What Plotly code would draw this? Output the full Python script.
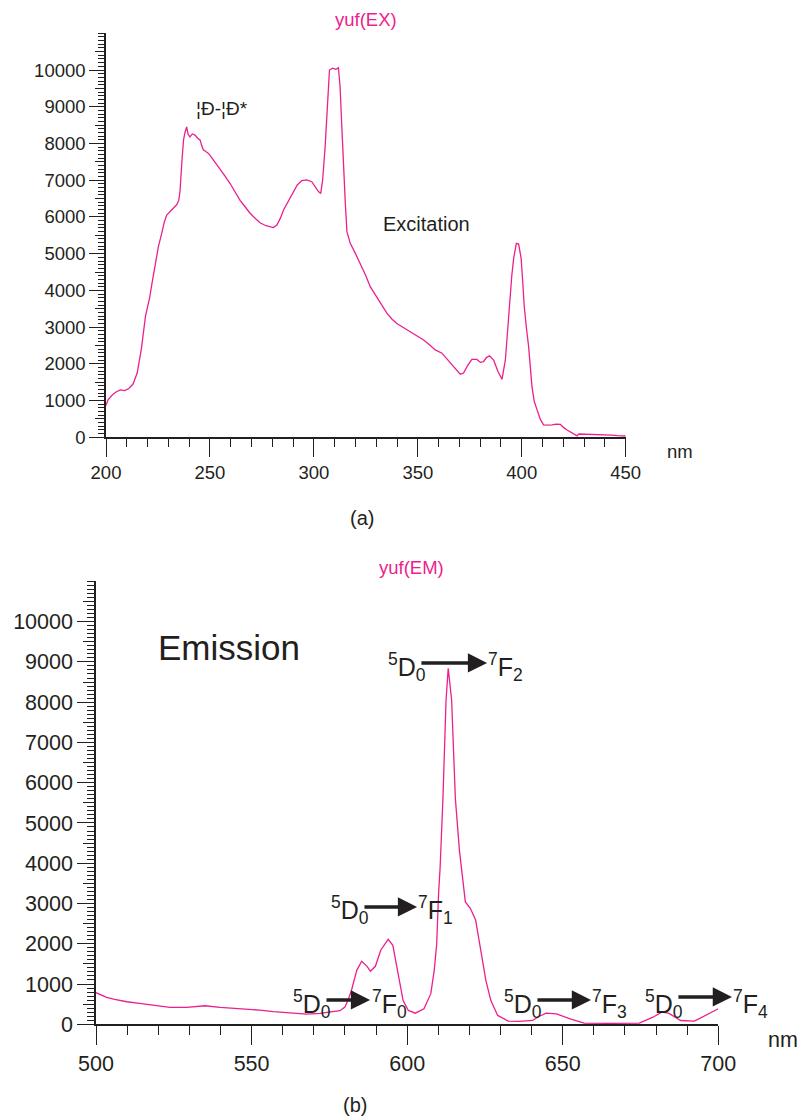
import plotly.graph_objects as go

# ---------------- data ----------------
ex_nm = [200, 201, 203, 205, 207, 209, 211, 213, 215, 217, 219, 221, 222, 223, 224,
         225.2, 226.8, 228, 229.2, 231, 233, 234, 235, 235.6, 236.5, 237.3, 238, 238.8,
         239.5, 240.4, 241.5, 242.8, 244, 245.3, 246, 246.8, 248, 249.3, 250.5, 251.7,
         253, 254.9, 257, 259.7, 262, 264.5, 267, 269.3, 272, 274.1, 277, 280.5, 282.2,
         284, 285.4, 288, 290.2, 292, 294.2, 296.5, 299, 301, 302.2, 303.3, 304.2, 305.4,
         306.5, 307.5, 309, 310.5, 311.8, 312.6, 313.4, 314.2, 315.1, 315.9, 317.5, 320,
         322.3, 325, 327.1, 330, 331.9, 335.1, 337.5, 339.9, 343, 346.4, 350, 352.8, 356,
         358.4, 361.6, 363.5, 365.6, 368, 370.4, 372, 374, 376, 378.4, 380.1, 381.6, 383,
         384.5, 386.5, 388.5, 390.5, 392.1, 393.2, 394.2, 395.2, 396.1, 397.4, 398.5,
         399.7, 400.5, 401.2, 402.3, 403.3, 404.9, 406, 407.4, 409, 410.5, 412, 414.6,
         416.5, 418.6, 420, 421.8, 424.2, 426.6, 427.4, 432, 437.8, 441, 443.4, 446, 450]
ex_int = [870, 1020, 1150, 1240, 1290, 1270, 1330, 1450, 1750, 2400, 3300, 3800, 4150,
          4500, 4800, 5190, 5550, 5850, 6050, 6150, 6260, 6330, 6450, 6700, 7500, 8100,
          8300, 8450, 8250, 8180, 8260, 8230, 8150, 8090, 7950, 7830, 7780, 7730, 7640,
          7550, 7450, 7320, 7130, 6910, 6680, 6450, 6270, 6100, 5950, 5840, 5760, 5710,
          5780, 5980, 6190, 6450, 6690, 6870, 6990, 7010, 6960, 6800, 6690, 6640, 7000,
          7900, 9100, 10000, 10050, 10020, 10060, 9550, 8500, 7370, 6400, 5600, 5280,
          5000, 4740, 4400, 4100, 3850, 3650, 3380, 3220, 3100, 2990, 2880, 2760, 2650,
          2500, 2380, 2290, 2170, 2020, 1860, 1720, 1750, 1960, 2120, 2120, 2040, 2060,
          2170, 2220, 2100, 1800, 1580, 2100, 2900, 3740, 4400, 4870, 5280, 5260, 4870,
          4200, 3560, 2950, 2470, 1380, 980, 740, 480, 340, 330, 340, 360, 350, 270, 200,
          110, 40, 90, 85, 80, 80, 60, 45, 35]

em_nm = [500, 501.5, 503.4, 506, 509.9, 514, 518.4, 523.8, 529.1, 532, 535, 539.9, 544,
         548.4, 552.7, 557, 560, 563.4, 567.7, 572, 575, 578.4, 580, 581, 582.1, 583.8,
         585.4, 587.1, 588.2, 589.8, 591.5, 593.9, 595.4, 597, 598.7, 600.4, 602.6,
         605.4, 607.6, 608.7, 609.5, 610.1, 610.6, 611.5, 612.5, 613.2, 614.3, 615.5,
         616.8, 618.7, 620.3, 622, 623.6, 625.3, 626.9, 629.1, 632.5, 636, 640.3, 642.5,
         644.7, 648, 652.4, 656.9, 665, 674.6, 679, 681.8, 684, 687.9, 692.3, 696.8, 700]
em_int = [785, 740, 670, 620, 560, 520, 480, 420, 420, 440, 460, 420, 400, 380, 350, 313,
          290, 273, 250, 270, 300, 338, 430, 600, 840, 1340, 1565, 1440, 1320, 1440, 1840,
          2110, 1960, 1260, 590, 343, 276, 385, 760, 1340, 2000, 3250, 3900, 5600, 8050,
          8840, 8050, 5600, 4320, 3040, 2880, 2590, 1840, 1090, 590, 220, 80, 70, 95, 200,
          276, 260, 134, 27, 25, 27, 176, 300, 276, 94, 77, 261, 385]

y_major = list(range(0, 10001, 1000))
y_half = list(range(500, 10501, 1000))

# transitions: labels, arrow start/end (nm), arrow level and text level (intensity units)
tr_left = ["<sup>5</sup>D<sub>0</sub>"] * 5
tr_right = ["<sup>7</sup>F<sub>0</sub>", "<sup>7</sup>F<sub>1</sub>", "<sup>7</sup>F<sub>2</sub>",
            "<sup>7</sup>F<sub>3</sub>", "<sup>7</sup>F<sub>4</sub>"]
tr_x0 = [573.6, 585.8, 604.1, 641.4, 686.7]
tr_x1 = [588.1, 603.2, 625.7, 659.1, 704.4]
tr_y = [604, 2914, 8974, 604, 678]
tr_ty = [504, 2839, 8862, 504, 504]

PINK = "#ec1f8c"
INK = "#231f20"
FONT = "Liberation Sans, Arial, Helvetica, sans-serif"

fig = go.Figure()
fig.add_trace(go.Scatter(x=ex_nm, y=ex_int, mode="lines", line=dict(color=PINK, width=1.3),
                         xaxis="x", yaxis="y", showlegend=False, hoverinfo="skip"))
fig.add_trace(go.Scatter(x=em_nm, y=em_int, mode="lines", line=dict(color=PINK, width=1.3),
                         xaxis="x2", yaxis="y2", showlegend=False, hoverinfo="skip"))
fig.add_trace(go.Scatter(x=[], y=[], xaxis="x", yaxis="y3", showlegend=False))
fig.add_trace(go.Scatter(x=[], y=[], xaxis="x2", yaxis="y4", showlegend=False))


def xaxis(domain, rng, fs, anchor, tick0, major_len):
    return dict(domain=domain, range=rng, anchor=anchor, tick0=tick0, dtick=50,
                automargin=False, ticks="outside", ticklen=major_len, tickwidth=1.3,
                tickcolor=INK, showline=True, linecolor=INK, linewidth=1.5, showgrid=False,
                zeroline=False, tickfont=dict(size=fs, color=INK, family=FONT),
                minor=dict(dtick=10, tick0=tick0, ticks="outside", ticklen=major_len * 0.45,
                           tickcolor=INK, tickwidth=1.2, showgrid=False))


def yaxis(domain, fs, anchor, major_len, minor_len):
    return dict(domain=domain, range=[0, 11000], anchor=anchor, tickmode="array",
                tickvals=y_major, tickformat="d", automargin=False, ticks="outside",
                ticklen=major_len, tickwidth=1.3, tickcolor=INK, showline=True,
                linecolor=INK, linewidth=1.5, showgrid=False, zeroline=False,
                tickfont=dict(size=fs, color=INK, family=FONT),
                minor=dict(dtick=100, tick0=0, ticks="outside", ticklen=minor_len,
                           tickcolor=INK, tickwidth=1.0, showgrid=False))


def yhalf(over, anchor, domain, ln):
    return dict(overlaying=over, anchor=anchor, side="left", domain=domain, range=[0, 11000],
                tickmode="array", tickvals=y_half, ticks="outside", ticklen=ln,
                automargin=False, tickwidth=1.2, tickcolor=INK, showticklabels=False,
                showline=False, showgrid=False, zeroline=False)


top_y = [0.6085, 0.9702]
bot_y = [0.0830, 0.4795]
top_x = [106 / 800, 625.7 / 800]
bot_x = [96 / 800, 718.3 / 800]


def bx(nm):
    # position along the bottom x axis, as a paper fraction
    return bot_x[0] + (nm - 500) / 200 * (bot_x[1] - bot_x[0])


annotations = []


def txt(text, x, y, size, color=INK, xref="paper", yref="paper", xanchor="center",
        yanchor="middle"):
    annotations.append(dict(text=text, x=x, y=y, xref=xref, yref=yref, showarrow=False,
                            xanchor=xanchor, yanchor=yanchor,
                            font=dict(size=size, color=color, family=FONT)))


txt("yuf(EX)", 0.4575, 0.9821, 18.5, PINK)
txt("yuf(EM)", 0.5138, 0.4915, 18.5, PINK)
txt("(a)", 0.4525, 0.5362, 20)
txt("(b)", 0.4438, 0.0107, 20)
txt("nm", 0.850, 0.5962, 18.5)
txt("nm", 0.9788, 0.0689, 21.5)
txt("¦Ð-¦Ð*", 255.8, 8965, 19, xref="x", yref="y")
txt("Excitation", 354.1, 5807, 20, xref="x", yref="y")
txt("Emission", 542.6, 9347, 35, xref="x2", yref="y2")

for lt, rt, x0, x1, ya, ty in zip(tr_left, tr_right, tr_x0, tr_x1, tr_y, tr_ty):
    annotations.append(dict(x=x1, y=ya, ax=x0, ay=ya, xref="x2", yref="y2", axref="x2",
                            ayref="y2", showarrow=True, arrowhead=2, arrowsize=1.1,
                            arrowwidth=3.5, arrowcolor=INK, standoff=0, startstandoff=0,
                            text=""))
    txt(lt, bx(x0 + 2.6), ty, 25, xref="paper", yref="y2", xanchor="right")
    txt(rt, bx(x1 - 0.2), ty, 25, xref="paper", yref="y2", xanchor="left")

fig.update_layout(
    width=800, height=1117, margin=dict(l=0, r=0, t=0, b=0),
    paper_bgcolor="white", plot_bgcolor="white", showlegend=False,
    xaxis=xaxis(top_x, [200, 450], 18.5, "y", 200, 18),
    yaxis=yaxis(top_y, 18.5, "x", 15, 6),
    yaxis3=yhalf("y", "x", top_y, 10),
    xaxis2=xaxis(bot_x, [500, 700], 21.5, "y2", 500, 19),
    yaxis2=yaxis(bot_y, 21.5, "x2", 17, 7),
    yaxis4=yhalf("y2", "x2", bot_y, 12),
    annotations=annotations,
)

fig.write_html("out.html", config={"displayModeBar": False},
               post_script="document.body.style.margin='0px';")
